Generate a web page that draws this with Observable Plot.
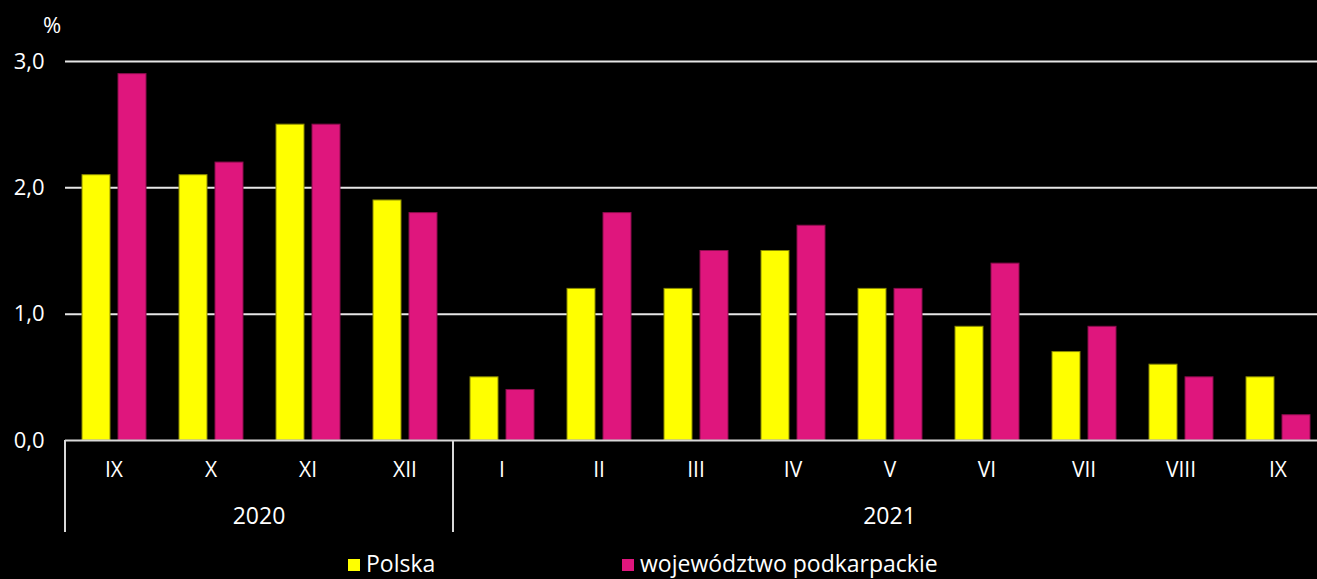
<!DOCTYPE html>
<html><head><meta charset="utf-8">
<script src="https://cdn.jsdelivr.net/npm/d3@7"></script>
<script src="https://cdn.jsdelivr.net/npm/@observablehq/plot@0.6"></script>
<style>
html,body{margin:0;padding:0;background:#000;overflow:hidden;width:1317px;height:579px;}
#chart{position:relative;width:1317px;height:579px;overflow:hidden;}
#chart svg{max-width:none !important;}
#legend{position:absolute;top:548px;left:0;width:1317px;height:31px;font-family:"Open Sans",sans-serif;font-size:23px;color:#fff;}
.item{position:absolute;top:0;display:flex;align-items:center;height:30px;line-height:30px;}
.sw{width:12px;height:12px;margin-right:6px;margin-top:4px;}
</style></head>
<body><div id="chart"><div id="legend"></div></div>
<script>
const months = ["IX","X","XI","XII","I","II","III","IV","V","VI","VII","VIII","IX"];
const years = ["2020","2020","2020","2020","2021","2021","2021","2021","2021","2021","2021","2021","2021"];
const seriesNames = ["Polska","województwo podkarpackie"];
const polska = [2.1,2.1,2.5,1.9,0.5,1.2,1.2,1.5,1.2,0.9,0.7,0.6,0.5];
const podkarpackie = [2.9,2.2,2.5,1.8,0.4,1.8,1.5,1.7,1.2,1.4,0.9,0.5,0.2];
const colors = ["#ffff00","#df167d"];
const yTicks = [0,1,2,3];

const keys = months.map((m,i)=>years[i]+"-"+m);
const data = [];
keys.forEach((k,i)=>{
  data.push({key:k, series:seriesNames[0], value:polska[i]});
  data.push({key:k, series:seriesNames[1], value:podkarpackie[i]});
});
const fontFamily = '"Open Sans", sans-serif';
const fmt = d => d.toFixed(1).replace(".", ",");

const plot = Plot.plot({
  width: 1327, height: 548,
  marginLeft: 64, marginRight: 0, marginTop: 61, marginBottom: 108,
  style: {background:"#000", color:"#fff", fontFamily, fontSize:"20px", overflow:"visible", maxWidth:"none"},
  fx: {domain: keys, padding: 0, label: null},
  x: {domain: seriesNames, paddingInner: 0.231, paddingOuter: 0.449, axis: null},
  y: {domain: [0,3], ticks: yTicks, label: null},
  color: {domain: seriesNames, range: colors},
  marks: [
    Plot.gridY(yTicks.slice(1), {stroke:"#e6e6e6", strokeOpacity:1, strokeWidth:2}),
    Plot.axisY(yTicks, {tickSize:0, tickPadding:21, tickFormat: fmt, fontSize:22, label:null}),
    Plot.barY(data, {fx:"key", x:"series", y:"value", fill:"series", stroke: d => d.series===seriesNames[0] ? "#8a8a00" : "#8a0d4c", strokeWidth:1}),
    Plot.ruleY([0], {stroke:"#d9d9d9", strokeWidth:2}),
    Plot.axisFx({anchor:"bottom", tickSize:0, tickPadding:22, tickFormat: k => k.split("-")[1], fontSize:21, label:null})
  ]
});
plot.style.maxWidth = "none";
document.getElementById("chart").prepend(plot);

// group separators and year labels, positioned with the plot's own fx scale
const fx = plot.scale("fx");
const svg = d3.select(plot);
const bw = fx.bandwidth;
const groups = d3.groups(keys, k => k.split("-")[0]);
const yScale = plot.scale("y");
const y0 = yScale.apply(0);
const g = svg.append("g");
groups.forEach(([yr, ks]) => {
  const x1 = fx.apply(ks[0]);
  const x2 = fx.apply(ks[ks.length-1]) + bw;
  [x1, x2].forEach(x => g.append("line").attr("x1", x).attr("x2", x).attr("y1", y0).attr("y2", y0+92)
    .attr("stroke", "#d9d9d9").attr("stroke-width", 2));
  g.append("text").attr("x", (x1+x2)/2).attr("y", y0+84).attr("text-anchor","middle")
    .attr("fill","#fff").attr("font-size",23).attr("font-family",fontFamily).text(yr);
});
svg.append("text").attr("x", 52).attr("y", 33).attr("text-anchor","middle")
  .attr("fill","#fff").attr("font-size",22).attr("font-family",fontFamily).text("%");

// legend
const legend = d3.select("#legend");
const lefts = [348, 622];
seriesNames.forEach((s,i) => {
  const it = legend.append("div").attr("class","item").style("left", lefts[i]+"px");
  it.append("div").attr("class","sw").style("background", colors[i]);
  it.append("span").text(s);
});
</script></body></html>
